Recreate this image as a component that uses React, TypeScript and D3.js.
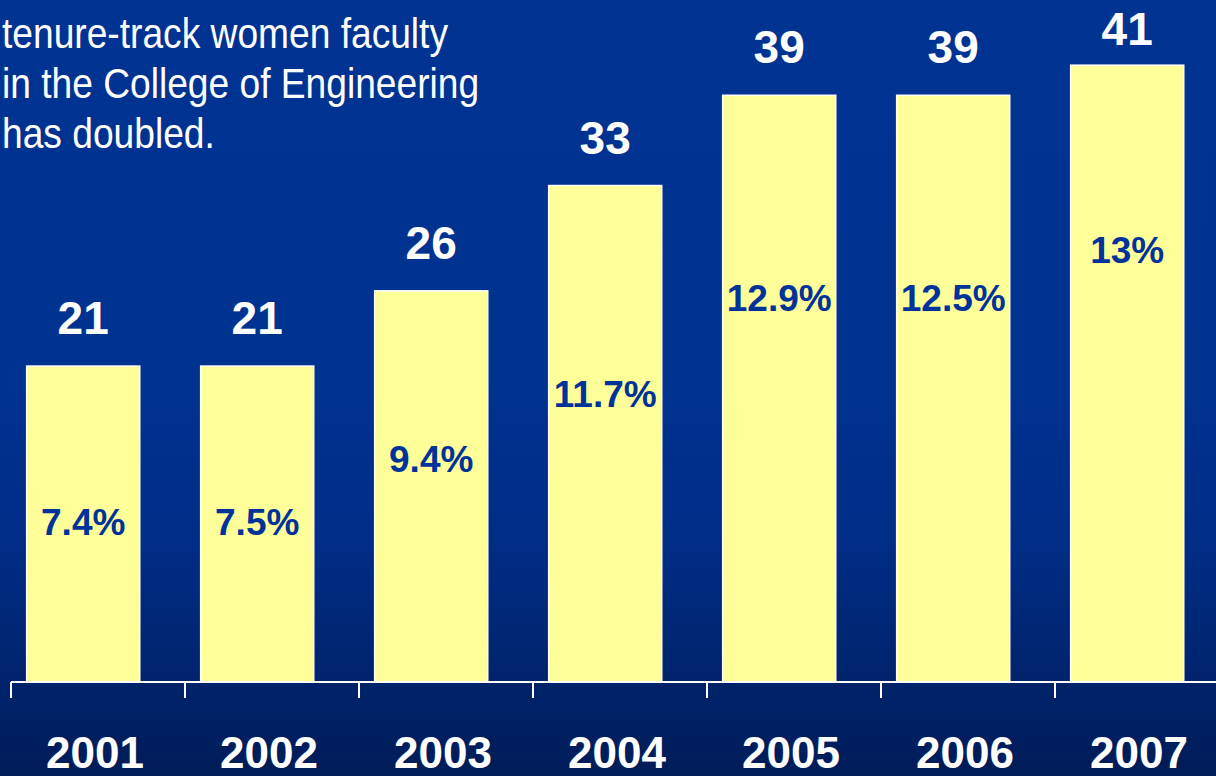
import React from "react";
import * as d3 from "d3";

// chart values
const years = ["2001", "2002", "2003", "2004", "2005", "2006", "2007"];
const counts = [21, 21, 26, 33, 39, 39, 41];
const shares = ["7.4%", "7.5%", "9.4%", "11.7%", "12.9%", "12.5%", "13%"];
// level (in count units) where each share label sits inside its bar
const shareLevels = [10.66, 10.66, 14.85, 19.17, 25.55, 25.55, 28.74];
const titleLines = [
  "tenure-track women faculty",
  "in the College of Engineering",
  "has doubled.",
];

const W = 1216;
const H = 776;
const FONT = "'Liberation Sans', Arial, Helvetica, sans-serif";

const App = () => {
  const x = d3.scaleBand<string>().domain(years).range([11, 11 + 174 * years.length]);
  const y = d3.scaleLinear().domain([0, 45]).range([682, 5]);
  const bw = x.bandwidth();
  const barX = (yr: string) => (x(yr) as number) + bw * 0.09;
  const barW = bw * 0.65;
  const base = y(0);

  return (
    <svg
      width={W}
      height={H}
      style={{ position: "absolute", left: 0, top: 0, display: "block" }}
    >
      <defs>
        <linearGradient id="bg" x1="0" y1="0" x2="0" y2="1">
          <stop offset="0%" stopColor="#003392" />
          <stop offset="50%" stopColor="#003290" />
          <stop offset="70%" stopColor="#002d86" />
          <stop offset="86%" stopColor="#00246e" />
          <stop offset="100%" stopColor="#001c58" />
        </linearGradient>
      </defs>
      <rect width={W} height={H} fill="url(#bg)" />

      {/* title text, slightly narrow face */}
      {titleLines.map((t, i) => (
        <text
          key={t}
          transform={`translate(2, ${48 + i * 50}) scale(0.885, 1)`}
          fill="#fff"
          fontFamily={FONT}
          fontSize={42}
        >
          {t}
        </text>
      ))}

      {/* bars */}
      {years.map((yr, i) => (
        <rect
          key={yr}
          x={barX(yr)}
          y={y(counts[i])}
          width={barW}
          height={base - y(counts[i])}
          fill="#ffff99"
          stroke="#fff"
          strokeWidth={1.5}
        />
      ))}

      {/* count labels above bars */}
      {years.map((yr, i) => (
        <text
          key={"c" + yr}
          x={barX(yr) + barW / 2}
          y={Math.max(y(counts[i]) - 32, 45)}
          textAnchor="middle"
          fill="#fff"
          fontFamily={FONT}
          fontWeight="bold"
          fontSize={46}
        >
          {counts[i]}
        </text>
      ))}

      {/* share labels inside bars */}
      {years.map((yr, i) => (
        <text
          key={"s" + yr}
          x={barX(yr) + barW / 2}
          y={y(shareLevels[i])}
          dy="0.36em"
          textAnchor="middle"
          fill="#003399"
          fontFamily={FONT}
          fontWeight="bold"
          fontSize={37}
        >
          {shares[i]}
        </text>
      ))}

      {/* axis */}
      <line x1={11} x2={W} y1={base} y2={base} stroke="#fff" strokeWidth={2} />
      {years.map((yr) => (
        <line
          key={"t" + yr}
          x1={x(yr)}
          x2={x(yr)}
          y1={base}
          y2={base + 16}
          stroke="#fff"
          strokeWidth={2}
        />
      ))}
      {years.map((yr) => (
        <text
          key={"y" + yr}
          x={(x(yr) as number) + bw / 2 - 3}
          y={768}
          textAnchor="middle"
          fill="#fff"
          fontFamily={FONT}
          fontWeight="bold"
          fontSize={44}
        >
          {yr}
        </text>
      ))}
    </svg>
  );
};

export default App;
